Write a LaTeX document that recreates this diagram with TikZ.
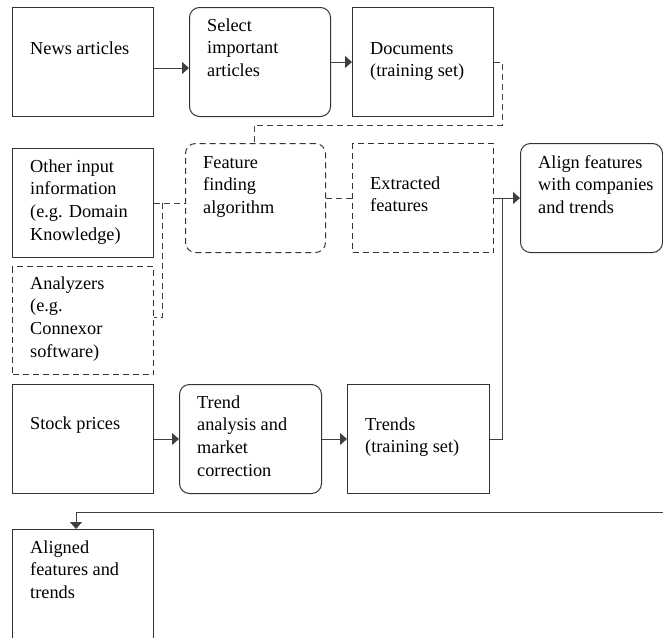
\documentclass[tikz,border=0pt]{standalone}
\usepackage{fontspec}
\setmainfont{Liberation Serif}
\usetikzlibrary{arrows.meta,calc}
% text block of a stage: first line baseline is the reference point
\newcommand{\stagetext}[1]{\parbox[t]{135pt}{\fontsize{18.3}{22.7}\selectfont\raggedright #1}}

\begin{document}
\begin{tikzpicture}[x=1pt,y=-1pt,
  stage/.style={draw=black!80, line width=1pt, rectangle, minimum width=141pt,
    minimum height=109pt, inner sep=0pt, anchor=north west},
  roundbox/.style={stage, rounded corners=10pt},
  dashbox/.style={stage, dash pattern=on 6pt off 4pt},
  stagelabel/.style={anchor=base west, inner sep=0pt, text=black},
  link/.style={draw=black!75, line width=1pt},
  flow/.style={link, -{Triangle[length=7pt,width=12pt]}},
  dlink/.style={link, dash pattern=on 6pt off 4pt}]

\useasboundingbox (0,0) rectangle (663,637);
\clip (0,0) rectangle (663,637);
\fill[white] (0,0) rectangle (663,637);

% first row: text sources
\node[stage] (news) at (12,7) {};
\node[roundbox] (select) at (189,7) {};
\node[stage] (docs) at (352,7) {};

% second row: feature extraction
\node[stage] (other) at (12,148) {};
\node[roundbox, dash pattern=on 6pt off 4pt, minimum width=140pt] (feature) at (185,143) {};
\node[dashbox] (extracted) at (352,143) {};
\node[roundbox, minimum width=142pt] (align) at (520,143) {};
\node[dashbox, minimum height=108pt] (analyzers) at (12,266) {};

% third row: price data
\node[stage] (stock) at (12,384) {};
\node[roundbox, minimum width=142pt] (trend) at (179,384) {};
\node[stage, minimum width=142pt] (trends) at (347,384) {};

% result
\node[stage, minimum height=130pt] (aligned) at (12,529) {};

% labels
\node[stagelabel] (news-t) at ($(news.north west)+(18,47)$) {\stagetext{News articles}};
\node[stagelabel] (select-t) at ($(select.north west)+(18,24)$) {\stagetext{Select\\important\\articles}};
\node[stagelabel] (docs-t) at ($(docs.north west)+(18,47)$) {\stagetext{Documents\\(training set)}};
\node[stagelabel] (other-t) at ($(other.north west)+(18,24)$) {\stagetext{Other input\\information\\(e.g. Domain\\Knowledge)}};
\node[stagelabel] (feature-t) at ($(feature.north west)+(18,25)$) {\stagetext{Feature\\finding\\algorithm}};
\node[stagelabel] (extracted-t) at ($(extracted.north west)+(18,46)$) {\stagetext{Extracted\\features}};
\node[stagelabel] (align-t) at ($(align.north west)+(18,25)$) {\stagetext{Align features\\with companies\\and trends}};
\node[stagelabel] (analyzers-t) at ($(analyzers.north west)+(18,23)$) {\stagetext{Analyzers\\(e.g.\\Connexor\\software)}};
\node[stagelabel] (stock-t) at ($(stock.north west)+(18,45)$) {\stagetext{Stock prices}};
\node[stagelabel] (trend-t) at ($(trend.north west)+(18,24)$) {\stagetext{Trend\\analysis and\\market\\correction}};
\node[stagelabel] (trends-t) at ($(trends.north west)+(18,46)$) {\stagetext{Trends\\(training set)}};
\node[stagelabel] (aligned-t) at ($(aligned.north west)+(18,24)$) {\stagetext{Aligned\\features and\\trends}};

% junction points
\coordinate (join) at (502,197.5);
\coordinate (loopturn) at (700,512);

% solid flows
\draw[flow] ([yshift=-61pt]news.north east) -- ([yshift=-61pt]select.north west);
\draw[flow] ([yshift=-55pt]select.north east) -- ([yshift=-55pt]docs.north west);
\draw[flow] (extracted.east) -- (align.west);
\draw[link] (trends.east) -| (join);
\draw[flow] (stock.east) -- (trend.west);
\draw[flow] (trend.east) -- (trends.west);
\draw[flow] (align.east) -| (loopturn) -- (76,512) -- (76,512 |- aligned.north);

% dashed inputs to the feature finder
\draw[dlink] ([yshift=-55pt]docs.north east) -| (502,125) -| (254,125 |- feature.north);
\draw[dlink] (other.east) -- (other.east -| feature.west);
\draw[dlink] (162,202.5) -- (162,317) -- (analyzers.east |- 162,317);
\draw[dlink] (feature.east) -- (feature.east -| extracted.west);
\end{tikzpicture}
\end{document}
